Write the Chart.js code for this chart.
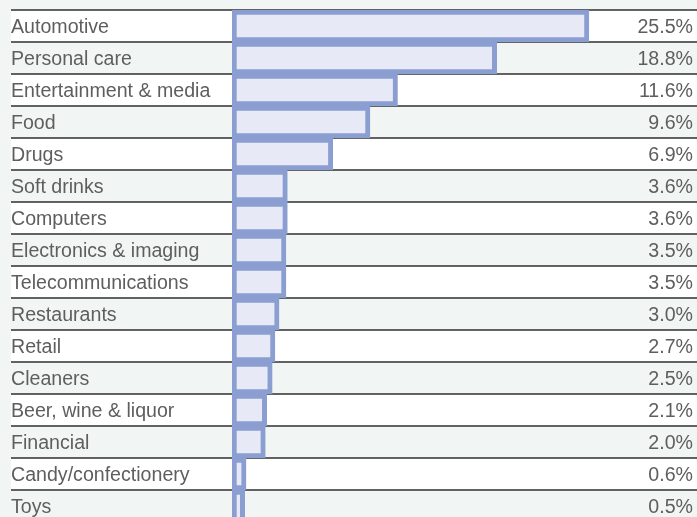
<!DOCTYPE html>
<html>
  <head>
    <script src="https://cdn.jsdelivr.net/npm/chart.js@4"></script>
    <style>
      html, body { margin: 0; padding: 0; overflow: hidden; background: #f1f6f4; }
    </style>
  </head>

  <body>
    <canvas id="canvas" width="697" height="530"></canvas>
    <script>
      const categories = [
        'Automotive', 'Personal care', 'Entertainment & media', 'Food', 'Drugs',
        'Soft drinks', 'Computers', 'Electronics & imaging', 'Telecommunications',
        'Restaurants', 'Retail', 'Cleaners', 'Beer, wine & liquor', 'Financial',
        'Candy/confectionery', 'Toys'
      ];
      const shares = [25.5, 18.8, 11.6, 9.6, 6.9, 3.6, 3.6, 3.5, 3.5, 3.0, 2.7, 2.5, 2.1, 2.0, 0.6, 0.5];
      const shareLabels = shares.map((v) => v.toFixed(1) + '%');

      const font = '19.6px "Liberation Sans", Arial, sans-serif';
      const textColor = '#5e5e5e';

      const rowsPlugin = {
        id: 'rows',
        beforeDatasetsDraw(chart) {
          const ctx = chart.ctx;
          const y = chart.scales.y;
          ctx.save();
          categories.forEach((c, i) => {
            const top = y.getPixelForValue(i - 0.5);
            const bottom = y.getPixelForValue(i + 0.5);
            if (i % 2 === 0) {
              ctx.fillStyle = '#ffffff';
              ctx.fillRect(11, top, chart.width - 11, bottom - top);
            }
          });
          ctx.strokeStyle = '#2f2f2f';
          ctx.lineWidth = 1.4;
          for (let i = 0; i <= categories.length; i++) {
            const py = y.getPixelForValue(i - 0.5);
            ctx.beginPath();
            ctx.moveTo(11, py);
            ctx.lineTo(chart.width, py);
            ctx.stroke();
          }
          ctx.font = font;
          ctx.fillStyle = textColor;
          ctx.textBaseline = 'middle';
          ctx.textAlign = 'left';
          categories.forEach((c, i) => {
            ctx.fillText(c, 11, y.getPixelForValue(i) + 1.5);
          });
          ctx.restore();
        },
        afterDatasetsDraw(chart) {
          const ctx = chart.ctx;
          const y = chart.scales.y;
          ctx.save();
          ctx.font = font;
          ctx.fillStyle = textColor;
          ctx.textBaseline = 'middle';
          ctx.textAlign = 'right';
          shareLabels.forEach((t, i) => {
            ctx.fillText(t, 693, y.getPixelForValue(i) + 1.5);
          });
          ctx.restore();
        }
      };

      new Chart(document.getElementById('canvas').getContext('2d'), {
        type: 'bar',
        data: {
          labels: categories,
          datasets: [
            {
              data: shares,
              base: -0.42,
              backgroundColor: '#e7eaf6',
              borderColor: '#8a9ed1',
              borderWidth: 5,
              borderSkipped: false,
              barPercentage: 1,
              categoryPercentage: 1,
            },
          ],
        },
        options: {
          indexAxis: 'y',
          responsive: false,
          animation: false,
          layout: { padding: { left: 232, right: 0, top: 10, bottom: 8 } },
          plugins: {
            legend: { display: false },
            tooltip: { enabled: false },
          },
          scales: {
            x: { display: false, min: -0.42, max: 33.35 },
            y: { display: false },
          },
        },
        plugins: [rowsPlugin],
      });
    </script>
  </body>
</html>
